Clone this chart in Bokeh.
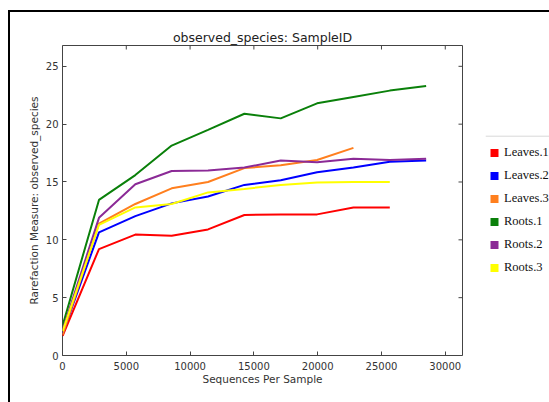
import math
from bokeh.plotting import figure
from bokeh.layouts import column, row
from bokeh.models import (Range1d, FixedTicker, Legend, LegendItem,
                          ColumnDataSource, Span, Div)
from bokeh.embed import file_html
from bokeh.resources import INLINE

depths = [10, 2859, 5708, 8557, 11406, 14255, 17104, 19953, 22802, 25651, 28500]

leaves_1 = [1.7, 9.2, 10.45, 10.35, 10.9, 12.15, 12.2, 12.2, 12.8, 12.8]
leaves_2 = [1.9, 10.65, 12.05, 13.15, 13.75, 14.75, 15.15, 15.85, 16.25, 16.75, 16.85]
leaves_3 = [1.8, 11.4, 13.1, 14.45, 15.0, 16.2, 16.45, 16.9, 17.95]
roots_1 = [2.6, 13.45, 15.6, 18.15, 19.5, 20.9, 20.5, 21.8, 22.35, 22.9, 23.3]
roots_2 = [2.2, 11.9, 14.8, 15.95, 16.0, 16.25, 16.85, 16.7, 17.0, 16.9, 17.0]
roots_3 = [2.1, 11.3, 12.8, 13.1, 14.1, 14.4, 14.75, 14.95, 15.0, 15.0]

series_names = ["Leaves.1", "Leaves.2", "Leaves.3", "Roots.1", "Roots.2", "Roots.3"]
series_values = [leaves_1, leaves_2, leaves_3, roots_1, roots_2, roots_3]
series_colors = ["#ff0000", "#0000ff", "#ff7f1e", "#0a800a", "#8b2a96", "#ffff00"]

x_ticks = [0, 5000, 10000, 15000, 20000, 25000, 30000]
y_ticks = [0, 5, 10, 15, 20, 25]
x_max = 31350
y_max = 26.8

BT, BB = 33, 47  # top / bottom borders shared by both canvases

# ---- main plot ----
p = figure(width=475, height=390, output_backend="svg", toolbar_location=None,
           x_range=Range1d(0, x_max), y_range=Range1d(0, y_max),
           min_border_left=52, min_border_right=23, min_border_top=BT,
           min_border_bottom=BB, margin=0)
p.background_fill_color = "white"
p.border_fill_color = "white"
p.grid.visible = False
p.outline_line_color = "#444444"
p.outline_line_width = 1

p.title.text = "observed_species: SampleID"
p.title.align = "center"
p.title.text_font = "DejaVu Sans"
p.title.text_font_size = "12.5px"
p.title.text_font_style = "normal"
p.title.text_color = "#222222"
p.title.standoff = 2

p.xaxis.ticker = FixedTicker(ticks=x_ticks)
p.yaxis.ticker = FixedTicker(ticks=y_ticks)
p.xaxis.axis_label = "Sequences Per Sample"
p.yaxis.axis_label = "Rarefaction Measure: observed_species"
for ax in p.xaxis + p.yaxis:
    ax.axis_line_color = None
    ax.major_tick_in = 4
    ax.major_tick_out = 0
    ax.minor_tick_line_color = None
    ax.major_tick_line_color = "#444444"
    ax.major_label_text_font = "DejaVu Sans"
    ax.major_label_text_font_size = "10px"
    ax.major_label_text_color = "#333333"
    ax.axis_label_text_font = "DejaVu Sans"
    ax.axis_label_text_font_size = "10.5px"
    ax.axis_label_text_font_style = "normal"
    ax.axis_label_text_color = "#333333"
p.xaxis.major_label_standoff = 6
p.yaxis.major_label_standoff = 4
p.xaxis.axis_label_standoff = 0
p.yaxis.axis_label_standoff = 3

# inward ticks on the top and right edges (half of each dash is clipped)
p.scatter(x=x_ticks, y=[y_max] * len(x_ticks), marker="dash", angle=math.pi / 2,
          size=8, line_color="#444444", line_width=1)
p.scatter(x=[x_max] * len(y_ticks), y=y_ticks, marker="dash",
          size=8, line_color="#444444", line_width=1)

# ---- legend panel (its frame lines up with the main frame) ----
frame_h = 390 - BT - BB
lg = figure(width=64, height=390, output_backend="svg", toolbar_location=None,
            x_range=Range1d(0, 1), y_range=Range1d(frame_h, 0),
            min_border_left=0, min_border_right=0, min_border_top=BT,
            min_border_bottom=BB, margin=0)
lg.axis.visible = False
lg.grid.visible = False
lg.outline_line_color = None
lg.background_fill_color = "white"
lg.border_fill_color = "white"

items = []
for name, vals, col in zip(series_names, series_values, series_colors):
    src = ColumnDataSource(dict(x=depths[:len(vals)], y=vals))
    p.line("x", "y", source=src, line_color=col, line_width=2)
    proxy = lg.scatter("x", "y", source=src, marker="square", fill_color=col,
                       line_color=None, visible=False)
    items.append(LegendItem(label=name, renderers=[proxy]))

legend = Legend(items=items, location=(-1, 76))
legend.border_line_color = None
legend.background_fill_alpha = 0
legend.padding = 0
legend.margin = 0
legend.spacing = 0
legend.glyph_width = 20
legend.glyph_height = 23
legend.label_height = 23
legend.label_standoff = 0
legend.label_text_font = "Liberation Serif"
legend.label_text_font_size = "12.5px"
legend.label_text_color = "#111111"
lg.add_layout(legend, "center")
lg.add_layout(Span(location=90.7, dimension="width", line_color="#d8d8d8",
                   line_width=1))

# ---- black frame (top and left edges) ----
top_bar = Div(width=541, height=2, margin=0, styles={"background-color": "black"})
left_bar = Div(width=2, height=390, margin=0, styles={"background-color": "black"})
layout = column(top_bar, row(left_bar, p, lg, margin=0, spacing=0),
                margin=(10, 0, 0, 8), spacing=0)

open("out.html", "w").write(file_html(layout, INLINE))
